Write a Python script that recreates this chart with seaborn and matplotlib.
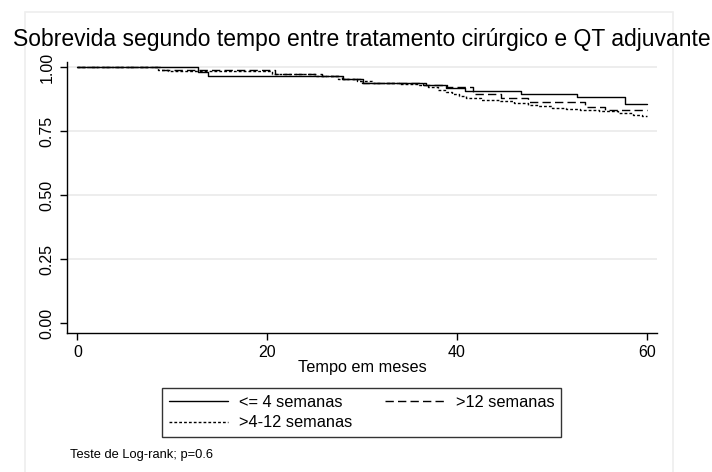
import pandas as pd
import matplotlib.pyplot as plt
import seaborn as sns
from matplotlib.patches import Rectangle

# Curvas de Kaplan-Meier (tempo em meses, sobrevida)
t_ate4 = [0, 12.7, 13.8, 28.0, 30.1, 36.4, 38.8, 40.9, 46.8, 52.7, 57.7, 60]
s_ate4 = [1.0, 0.980, 0.966, 0.953, 0.940, 0.930, 0.919, 0.906, 0.897, 0.882, 0.858, 0.858]

t_mais12 = [0, 8.7, 20.8, 25.8, 27.9, 30.0, 36.7, 38.9, 41.7, 44.6, 47.5, 53.5, 55.6, 60]
s_mais12 = [1.0, 0.988, 0.975, 0.966, 0.952, 0.940, 0.932, 0.922, 0.897, 0.879, 0.864, 0.846, 0.832, 0.832]

t_4a12 = [0, 8.5, 9.5, 20.5, 25.0, 27.5, 29.5, 31.0, 34.0, 36.0, 37.0, 38.0, 38.8, 39.5,
          40.2, 41.0, 42.5, 44.5, 46.0, 47.5, 48.5, 50.0, 51.5, 53.0, 55.0, 57.0, 58.5, 59.5, 60]
s_4a12 = [1.0, 0.990, 0.984, 0.975, 0.965, 0.955, 0.945, 0.940, 0.935, 0.930, 0.922, 0.912, 0.903, 0.895,
          0.887, 0.878, 0.872, 0.866, 0.860, 0.853, 0.848, 0.842, 0.837, 0.832, 0.828, 0.822, 0.815, 0.808, 0.808]

grupos = ['<= 4 semanas', '>4-12 semanas', '>12 semanas']
y_ticks = [0.0, 0.25, 0.5, 0.75, 1.0]
x_ticks = [0, 20, 40, 60]

df = pd.concat([
    pd.DataFrame({'tempo': t_ate4, 'sobrevida': s_ate4, 'grupo': grupos[0]}),
    pd.DataFrame({'tempo': t_4a12, 'sobrevida': s_4a12, 'grupo': grupos[1]}),
    pd.DataFrame({'tempo': t_mais12, 'sobrevida': s_mais12, 'grupo': grupos[2]}),
])

sns.set_theme(style="white")
plt.rcParams['font.family'] = ['Liberation Sans', 'DejaVu Sans']
plt.rcParams.update({'text.color': 'black', 'axes.labelcolor': 'black',
                     'xtick.color': 'black', 'ytick.color': 'black'})

fig = plt.figure(figsize=(7.12, 4.72), dpi=100)
ax = fig.add_axes([0.094, 0.2945, 0.829, 0.574])

estilos = {grupos[0]: '-', grupos[1]: (0, (2, 1.5)), grupos[2]: (0, (6, 3))}
for g in grupos:
    sns.lineplot(data=df[df['grupo'] == g], x='tempo', y='sobrevida', ax=ax,
                 color='black', linewidth=1.0, linestyle=estilos[g],
                 drawstyle='steps-post', label=g, legend=False)

ax.set_xlim(-1.1, 61.1)
ax.set_ylim(-0.039, 1.02)
ax.set_xticks(x_ticks)
ax.set_yticks(y_ticks)
ax.set_yticklabels([f"{v:.2f}" for v in y_ticks], rotation=90, va='center')
ax.tick_params(axis='both', direction='out', length=5, width=1, color='black',
               labelsize=11.5, pad=4, left=True, bottom=True)
ax.set_xlabel('Tempo em meses', fontsize=11.7, labelpad=0)
ax.set_ylabel('')

ax.grid(axis='y', color='#eaeaea', linewidth=1.2)
ax.yaxis.get_gridlines()[0].set_visible(False)
for s in ['top', 'right']:
    ax.spines[s].set_visible(False)
for s in ['left', 'bottom']:
    ax.spines[s].set_color('black')
    ax.spines[s].set_linewidth(1)

# moldura cinza clara da área do gráfico
fig.patches.append(Rectangle((25 / 712, -0.1), 648 / 712, 1.1 - 12 / 472,
                             transform=fig.transFigure, fill=False,
                             edgecolor='#eeeeee', linewidth=1.2, zorder=0))

fig.text(0.508, 0.916, 'Sobrevida segundo tempo entre tratamento cirúrgico e QT adjuvante',
         ha='center', va='center', fontsize=16.5)

linhas = ax.get_lines()
leg = fig.legend(handles=linhas, labels=grupos, ncol=2, loc='center',
                 bbox_to_anchor=(0.508, 0.126), fontsize=11.8, frameon=True,
                 fancybox=False, edgecolor='black', handlelength=3.6,
                 handletextpad=0.7, columnspacing=2.0, labelspacing=0.35,
                 borderpad=0.4)
leg.get_frame().set_linewidth(1)

fig.text(0.098, 0.036, 'Teste de Log-rank; p=0.6', ha='left', va='center', fontsize=9.3)

plt.savefig('out.png', dpi=100)
plt.close()
